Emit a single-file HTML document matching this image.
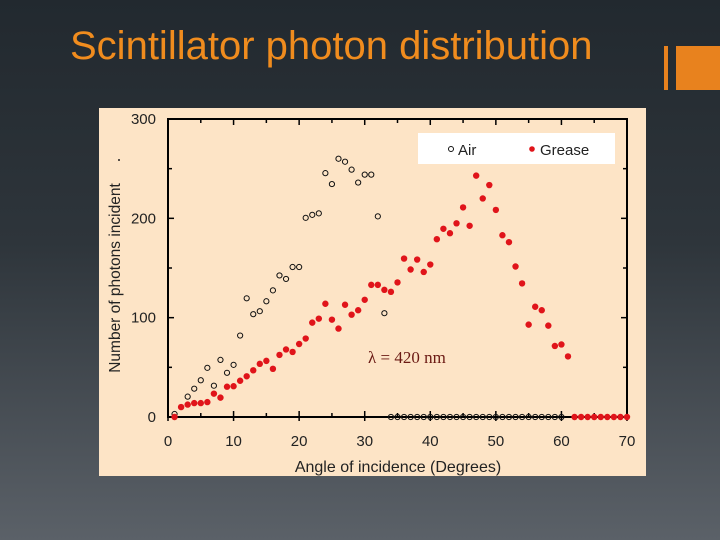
<!DOCTYPE html>
<html><head><meta charset="utf-8"><style>
html,body{margin:0;padding:0}
body{width:720px;height:540px;overflow:hidden;background:linear-gradient(#22292f 0%,#2e353b 45%,#5b6168 100%);font-family:"Liberation Sans",sans-serif;position:relative}
#title{position:absolute;left:70px;top:24px;color:#f08c1e;font-size:40px;white-space:nowrap}
#deco1{position:absolute;left:664px;top:46px;width:4px;height:44px;background:#e8821e}
#deco2{position:absolute;left:676px;top:46px;width:44px;height:44px;background:#e8821e}
svg{position:absolute;left:0;top:0}
</style></head><body>
<div id="title">Scintillator photon distribution</div>
<div id="deco1"></div>
<div id="deco2"></div>
<svg id="chart" width="720" height="540">
<rect x="99" y="108" width="547" height="368" fill="#fde4c6"/>
</svg>
<script>
const xTicks=[0,10,20,30,40,50,60,70];
const yTicks=[0,100,200,300];
const airX=[1,3,4,5,6,7,8,9,10,11,12,13,14,15,16,17,18,19,20,21,22,23,24,25,26,27,28,29,30,31,32,33,34,35,36,37,38,39,40,41,42,43,44,45,46,47,48,49,50,51,52,53,54,55,56,57,58,59,60];
const airY=[3,20.5,28.5,37,49.5,31.5,57.5,44.5,52.5,82,119.5,103.5,106.5,116.5,127.5,142.5,139,151,151,200.5,203.5,205,245.5,234.5,260,257,249,236,244,244,202,104.5,0,0,0,0,0,0,0,0,0,0,0,0,0,0,0,0,0,0,0,0,0,0,0,0,0,0,0];
const greaseX=[1,2,3,4,5,6,7,8,9,10,11,12,13,14,15,16,17,18,19,20,21,22,23,24,25,26,27,28,29,30,31,32,33,34,35,36,37,38,39,40,41,42,43,44,45,46,47,48,49,50,51,52,53,54,55,56,57,58,59,60,61,62,63,64,65,66,67,68,69,70];
const greaseY=[0,10,12.5,14,14,15,23.5,19.5,30.5,31,36.5,41,47,53.5,56.5,48.5,62.5,68,65.5,73.5,79,95,99,114,98,89,113,103,107.5,118,133,133,128,126,135.5,159.5,148.5,158.5,146,153.5,179,189.5,185,195,211,192.5,243,220,233.5,208.5,183,176,151.5,134.5,93,111,107.5,92,71.5,73,61,0,0,0,0,0,0,0,0,0];
const svg=document.getElementById('chart');
const NS='http://www.w3.org/2000/svg';
const X0=168,X1=627,Y0=417,Y1=119;
const sx=v=>X0+(v-0)/70*(X1-X0);
const sy=v=>Y0-(v-0)/300*(Y0-Y1);
function mk(t,a,txt){const e=document.createElementNS(NS,t);for(const k in a)e.setAttribute(k,a[k]);if(txt!==undefined)e.textContent=txt;svg.appendChild(e);return e;}
let e;
e=mk('rect',{x:X0,y:Y1,width:X1-X0,height:Y0-Y1,fill:'none',stroke:'#000','stroke-width':2});


for(let v=0;v<=70;v+=5){const L=v%10===0?6:4;
 e=mk('line',{x1:sx(v),x2:sx(v),y1:Y0+(v%10===0?4:0),y2:Y0-L,stroke:'#000','stroke-width':1.5});
 
 
 e=mk('line',{x1:sx(v),x2:sx(v),y1:Y1,y2:Y1+L,stroke:'#000','stroke-width':1.5});
 
 }
for(let v=0;v<=300;v+=50){const L=v%100===0?6:4;
 e=mk('line',{x1:X0,x2:X0+L,y1:sy(v),y2:sy(v),stroke:'#000','stroke-width':1.5});
 
 
 e=mk('line',{x1:X1,x2:X1-L,y1:sy(v),y2:sy(v),stroke:'#000','stroke-width':1.5});
 
 }
xTicks.forEach(v=>{e=mk('text',{x:sx(v),y:446,'text-anchor':'middle','font-size':15,fill:'#222'},String(v));
 
 });
yTicks.forEach(v=>{e=mk('text',{x:156,y:sy(v)+5,'text-anchor':'end','font-size':15,fill:'#222'},String(v));
 
 });
e=mk('text',{x:398,y:472,'text-anchor':'middle','font-size':16,fill:'#222'},'Angle of incidence (Degrees)');


e=mk('text',{x:0,y:0,'text-anchor':'middle','font-size':15.5,fill:'#222',transform:'translate(120,278) rotate(-90)'},'Number of photons incident');


e=mk('circle',{cx:119,cy:160,r:1,fill:'#222'});


airX.forEach((v,i)=>{e=mk('circle',{cx:sx(v),cy:sy(airY[i]),r:2.6,fill:'none',stroke:'#111','stroke-width':1});
 
 });
greaseX.forEach((v,i)=>{e=mk('circle',{cx:sx(v),cy:sy(greaseY[i]),r:3.2,fill:'#e0141a'});
 
 });
e=mk('rect',{x:418,y:133,width:197,height:31,fill:'#fff'});


e=mk('circle',{cx:451,cy:149,r:2.5,fill:'none',stroke:'#111','stroke-width':1});


e=mk('text',{x:458,y:155,'font-size':15,fill:'#222'},'Air');


e=mk('circle',{cx:532,cy:149,r:2.8,fill:'#e0141a'});


e=mk('text',{x:540,y:155,'font-size':15,fill:'#222'},'Grease');


e=mk('text',{x:368,y:363,'font-size':17,fill:'#6b1a14','font-family':'Liberation Serif, serif'},'λ = 420 nm');


</script>
</body></html>
